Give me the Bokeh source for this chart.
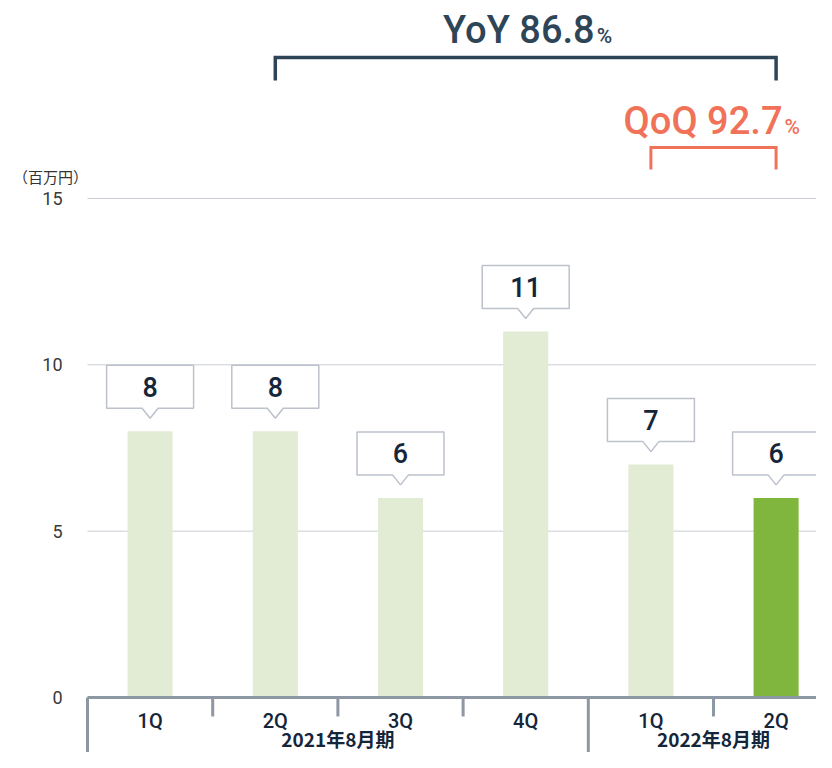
from bokeh.plotting import figure
from bokeh.models import Range1d
from bokeh.core.properties import value
from bokeh.embed import file_html
from bokeh.resources import INLINE

# ---------------- data ----------------
groups = ["2021年8月期", "2022年8月期"]
group_sizes = [4, 2]
quarters = ["1Q", "2Q", "3Q", "4Q", "1Q", "2Q"]
sales = [8, 8, 6, 11, 7, 6]
highlight = [False, False, False, False, False, True]
y_ticks = [0, 5, 10, 15]
unit_label = "（百万円）"
yoy_label, yoy_pct = "YoY 86.8", "%"
yoy_span = (1, 5)
qoq_label, qoq_pct = "QoQ 92.7", "%"
qoq_span = (4, 5)

# ---------------- layout ----------------
W, H = 816, 752
X0_PX = 87        # left edge of the plotting area
ZERO_PX = 697     # pixel row of value 0
SLOT_PX = 125.2   # width of one category slot
Y_PX = 33.27      # pixels per unit


def dx(px):
    return px / SLOT_PX


def dy(px):
    return px / Y_PX


def ry(px_row):
    """data y of a pixel row"""
    return (ZERO_PX - px_row) / Y_PX


x_start, x_end = -X0_PX / SLOT_PX, (W - X0_PX) / SLOT_PX
y_top, y_bottom = ry(0), ry(H)

LIGHT = "#e2ebd4"
GREEN = "#80b63d"
AXIS = "#8e97a4"
GRID = "#c9cdd5"
NAVY = "#15263a"
YOY_C = "#2e4457"
QOQ_C = "#f07259"
BOX_LINE = "#bcc1cc"
MED = value("Roboto Medium, Roboto")
REG = value("Roboto")
CJK = value("Noto Sans CJK JP")

p = figure(width=W, height=H, x_range=Range1d(x_start, x_end), y_range=Range1d(y_bottom, y_top),
           x_axis_type=None, y_axis_type=None, output_backend="svg", toolbar_location=None,
           min_border=0)
p.outline_line_color = None
p.grid.visible = False

# y ticks, grid, unit
grid_ticks = [t for t in y_ticks if t > 0]
p.segment(x0=[0] * len(grid_ticks), y0=grid_ticks, x1=[x_end] * len(grid_ticks), y1=grid_ticks,
          line_color=GRID, line_width=1)
p.text(x=[-dx(25)] * len(y_ticks), y=y_ticks, text=[str(t) for t in y_ticks], text_font=REG,
       text_font_size="18px", text_align="right", text_baseline="middle", text_color="#3a3a3a")
p.text(x=[-dx(37)], y=[ry(176)], text=[unit_label], text_font=CJK, text_font_size="15px",
       text_align="center", text_baseline="middle", text_color="#333333")

# bars
centers = [i + 0.5 for i in range(len(sales))]
colors = [GREEN if h else LIGHT for h in highlight]
p.vbar(x=centers, top=sales, width=0.36, color=colors, line_color=None)

# callouts
hw, ph = dx(43.5), dx(8)
xs, ys = [], []
for c, v in zip(centers, sales):
    bot, top, tip = v + dy(23), v + dy(66), v + dy(13)
    xs.append([c - hw, c - ph, c, c + ph, c + hw, c + hw, c - hw])
    ys.append([bot, bot, tip, bot, bot, top, top])
p.patches(xs, ys, fill_color="white", line_color=BOX_LINE, line_width=1.5)
p.text(x=centers, y=[v + dy(44.5) for v in sales], text=[str(v) for v in sales],
       text_font=MED, text_font_style="bold", text_font_size="27px",
       text_align="center", text_baseline="middle", text_color=NAVY)

# x axis (drawn)
n = len(sales)
p.segment(x0=[0], y0=[0], x1=[x_end], y1=[0], line_color=AXIS, line_width=3)
bounds = [0]
for s in group_sizes:
    bounds.append(bounds[-1] + s)
p.segment(x0=bounds[:-1], y0=[0] * len(group_sizes), x1=bounds[:-1],
          y1=[y_bottom] * len(group_sizes), line_color=AXIS, line_width=3)
minor = [i for i in range(1, n) if i not in bounds]
p.segment(x0=minor, y0=[0] * len(minor), x1=minor, y1=[-dy(19)] * len(minor),
          line_color=AXIS, line_width=3)
p.text(x=centers, y=[ry(720)] * n, text=quarters, text_font=MED, text_font_style="bold",
       text_font_size="20px", text_align="center", text_baseline="middle", text_color=NAVY)
gcenters = [(bounds[i] + bounds[i + 1]) / 2 for i in range(len(groups))]
p.text(x=gcenters, y=[ry(738)] * len(groups), text=groups, text_font=CJK, text_font_style="bold",
       text_font_size="19px", text_align="center", text_baseline="middle", text_color=NAVY)


# brackets
def bracket(span, y_line_px, y_end_px, color, width, label, pct, mid_px, pct_mid_px):
    x0, x1 = centers[span[0]], centers[span[1]]
    yl, ye = ry(y_line_px), ry(y_end_px)
    p.line(x=[x0, x0, x1, x1], y=[ye, yl, yl, ye], line_color=color, line_width=width,
           line_join="miter")
    xc = (x0 + x1) / 2
    p.text(x=[xc], y=[ry(mid_px)], text=[label], text_font=MED, text_font_style="bold",
           text_font_size="38px", text_align="right", text_baseline="middle",
           text_color=color, x_offset=69)
    p.text(x=[xc], y=[ry(pct_mid_px)], text=[pct], text_font=MED, text_font_style="bold",
           text_font_size="21px", text_align="left", text_baseline="middle",
           text_color=color, x_offset=71)


bracket(yoy_span, 57, 80, YOY_C, 3.5, yoy_label, yoy_pct, 29, 35)
bracket(qoq_span, 147, 169, QOQ_C, 3, qoq_label, qoq_pct, 120, 126)

open("out.html", "w").write(file_html(p, INLINE))
